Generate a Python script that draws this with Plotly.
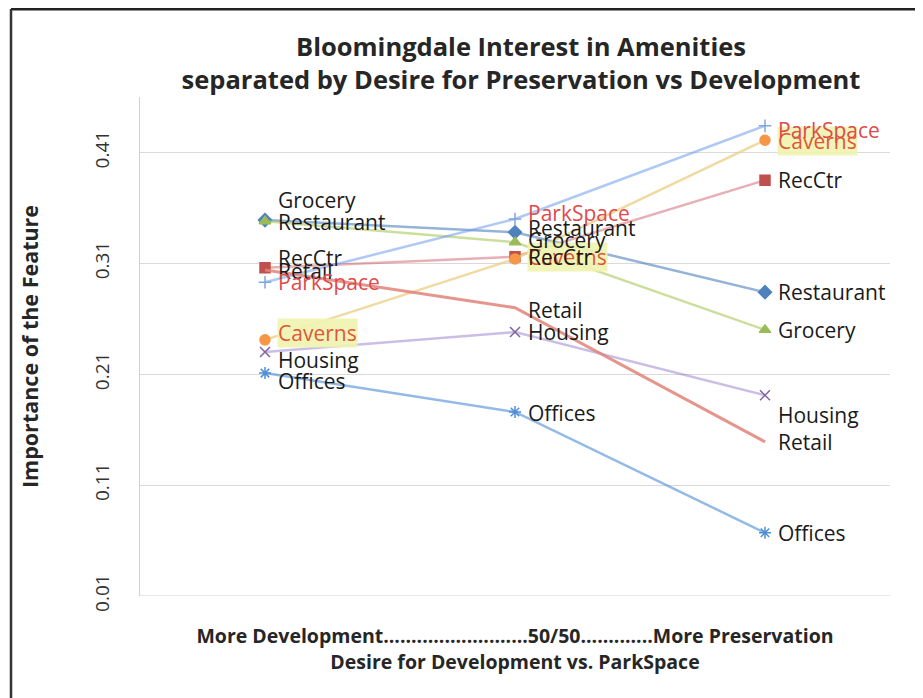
import plotly.graph_objects as go

categories = ["More Development", "50/50", "More Preservation"]

restaurant = [0.349, 0.338, 0.284]
recctr = [0.306, 0.316, 0.385]
grocery = [0.348, 0.329, 0.250]
housing = [0.230, 0.248, 0.191]
offices = [0.211, 0.176, 0.067]
caverns = [0.241, 0.314, 0.421]
parkspace = [0.293, 0.350, 0.434]
retail = [0.304, 0.270, 0.149]

y_ticks = [0.01, 0.11, 0.21, 0.31, 0.41]

series = [
    ("Restaurant", restaurant, "#4F81BD", "rgba(79,129,189,0.6)", "diamond", 10, 2.5),
    ("RecCtr", recctr, "#C0504D", "rgba(200,80,90,0.45)", "square", 10, 2.5),
    ("Grocery", grocery, "#9BBB59", "rgba(170,200,90,0.6)", "triangle-up", 10, 2.5),
    ("Housing", housing, "#8064A2", "rgba(140,110,200,0.45)", "x-thin-open", 10, 2.5),
    ("Offices", offices, "#4F8FD8", "rgba(75,140,215,0.6)", "asterisk-open", 10, 2.5),
    ("Caverns", caverns, "#F79646", "rgba(235,205,130,0.75)", "circle", 10, 2.5),
    ("ParkSpace", parkspace, "#7FA7E0", "rgba(110,155,235,0.55)", "cross-thin-open", 9, 2.5),
    ("Retail", retail, "rgba(0,0,0,0)", "rgba(225,130,120,0.85)", "circle", 1, 3),
]

# label offsets (yshift in px) per series per category
label_shift = {
    "Restaurant": [-2, 4, 0],
    "RecCtr": [10, 0, 0],
    "Grocery": [21, 2, 0],
    "Housing": [-8, 0, -20],
    "Offices": [-8, -1, 0],
    "Caverns": [7, 2, -1],
    "ParkSpace": [0, 6, -4],
    "Retail": [-1, -2, 0],
}
label_color = {"Caverns": "#E0553A", "ParkSpace": "#E04A4A"}
label_bg = {"Caverns": "rgba(238,244,175,0.9)"}

FONT = "'Open Sans', sans-serif"

fig = go.Figure()
for name, vals, mcol, lcol, sym, msize, lw in series:
    fig.add_trace(go.Scatter(
        x=categories, y=vals, mode="lines+markers", name=name,
        line=dict(color=lcol, width=lw),
        marker=dict(color=mcol, symbol=sym, size=msize,
                    line=dict(color=mcol, width=1.5)),
        showlegend=False, hoverinfo="skip",
    ))

order = ["Caverns", "Restaurant", "Grocery", "Housing", "Offices", "Retail", "RecCtr", "ParkSpace"]
vals_map = {s[0]: s[1] for s in series}
for name in order:
    vals = vals_map[name]
    for i, c in enumerate(categories):
        fig.add_annotation(
            x=c, y=vals[i], xref="x", yref="y", text=name, showarrow=False,
            xanchor="left", yanchor="middle", xshift=12, yshift=label_shift[name][i],
            font=dict(family=FONT, size=21, color=label_color.get(name, "#1a1a1a")),
            bgcolor=label_bg.get(name, "rgba(0,0,0,0)"), borderpad=0,
        )

# page body adds an 8px offset; figure is sized/marged to compensate
W, H = 915, 690
L, R, T, B = 132, 33, 89, 102
fig.update_layout(
    width=W, height=H,
    margin=dict(l=L, r=R, t=T, b=B),
    paper_bgcolor="white", plot_bgcolor="white",
    title=dict(
        text="<b>Bloomingdale Interest in Amenities<br>separated by Desire for Preservation vs Development</b>",
        x=(521 - 8) / W, xanchor="center", y=1 - 48 / H, yanchor="top",
        font=dict(family=FONT, size=25.5, color="#262626"),
    ),
    font=dict(family=FONT, color="#262626"),
    xaxis=dict(
        type="category", categoryarray=categories, range=[-0.5, 2.5],
        showticklabels=False, showgrid=False, zeroline=False, showline=False, ticks="",
        title=dict(
            text="<b>More Development..........................50/50.............More Preservation<br>Desire for Development vs. ParkSpace</b>",
            font=dict(family=FONT, size=19.5, color="#262626"), standoff=33,
        ),
    ),
    yaxis=dict(
        range=[0.01, 0.46], tickvals=y_ticks, ticktext=[f"{v:.2f}" for v in y_ticks],
        tickangle=-90, tickfont=dict(family=FONT, size=19, color="#333"),
        showgrid=True, gridcolor="#DADADA", gridwidth=1, zeroline=False,
        showline=True, linecolor="#D0D0D0", ticks="", ticklabelstandoff=22,
        title=dict(text="<b>Importance of the Feature</b>",
                   font=dict(family=FONT, size=21.5, color="#262626"), standoff=44),
    ),
)

fig.add_hline(y=0.01, line=dict(color="#D0D0D0", width=1))

pw = W - L - R
ph = H - T - B
fig.add_shape(type="line", xref="paper", yref="paper", x0=-(L - 3) / pw, x1=1.2,
              y0=1 + (T - 1) / ph, y1=1 + (T - 1) / ph, line=dict(color="#222", width=3))
fig.add_shape(type="line", xref="paper", yref="paper", x0=-(L - 3) / pw, x1=-(L - 3) / pw,
              y0=-0.3, y1=1 + (T - 1) / ph, line=dict(color="#333", width=2.5))

fig.write_html("out.html")
